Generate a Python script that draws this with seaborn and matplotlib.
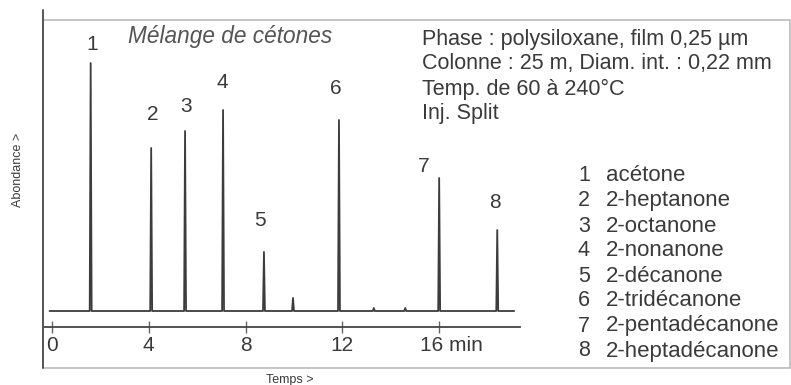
import numpy as np
import pandas as pd
import matplotlib.pyplot as plt
import matplotlib.transforms as mtransforms
from matplotlib.lines import Line2D
from matplotlib.patches import Rectangle
import seaborn as sns

# peaks (time in min, height in arbitrary units)
peak_ids = ["1", "2", "3", "4", "5", "6", "7", "8"]
peak_times = [1.6, 4.1, 5.5, 7.07, 8.76, 11.86, 16.0, 18.4]
peak_heights = [248, 163, 180, 201, 59, 191, 133, 81]
minor_times = [9.96, 13.3, 14.6]
minor_heights = [13, 3, 3]
compounds = ["acétone", "2-heptanone", "2-octanone", "2-nonanone",
             "2-décanone", "2-tridécanone", "2-pentadécanone", "2-heptadécanone"]
xticks = [0, 4, 8, 12, 16]
xticklabels = ["0", "4", "8", "12", "16 min"]

# label placement (offsets in px / data units)
lab_dx = [0.08, 0.08, 0.04, -0.04, -0.17, -0.12, -0.62, -0.08]
lab_dy = [18, 33, 24, 28, 32, 32, 11, 27]

sns.set_style("white")
plt.rcParams['font.family'] = ['Liberation Sans', 'DejaVu Sans']
ink = "#3a3a3a"

# build the trace: flat baseline with narrow spikes
all_t = peak_times + minor_times
all_h = peak_heights + minor_heights
order = np.argsort(all_t)
w = 0.04
xs, ys = [-0.1], [0]
for i in order:
    xs += [all_t[i] - w, all_t[i], all_t[i] + w]
    ys += [0, all_h[i], 0]
xs.append(19.1)
ys.append(0)
trace = pd.DataFrame({"t": xs, "a": ys})

fig = plt.figure(figsize=(7.91, 3.85), dpi=100)
W, H = 791, 385
ax = fig.add_axes([43 / W, (H - 327) / H, (520 - 43) / W, (327 - 20) / H])
sns.lineplot(data=trace, x="t", y="a", sort=False, estimator=None,
             color="#3c3c3c", linewidth=1.3, ax=ax)
ax.set_xlim(-0.37, 19.34)
ax.set_ylim(-16, 291)
ax.set_facecolor("none")
for s in ["top", "right", "left"]:
    ax.spines[s].set_visible(False)
ax.spines["bottom"].set_color("#444444")
ax.spines["bottom"].set_linewidth(1.3)
ax.set_yticks([])
ax.set_xticks(xticks)
ax.set_xticklabels(xticklabels)
ax.tick_params(axis="x", direction="inout", length=9, width=1, color="#666666",
               labelsize=15, labelcolor=ink, pad=2, bottom=True)
lab = ax.get_xticklabels()[-1]
lab.set_horizontalalignment("left")
lab.set_transform(lab.get_transform() + mtransforms.ScaledTranslation(-19 / 100, 0, fig.dpi_scale_trans))
ax.set_xlabel("")
ax.set_ylabel("")

for i, pid in enumerate(peak_ids):
    ax.text(peak_times[i] + lab_dx[i], peak_heights[i] + lab_dy[i], pid,
            ha="center", va="center", fontsize=15, color=ink)

# frame and left line
fig.add_artist(Rectangle((43 / W, (H - 368) / H), (790 - 43) / W, (368 - 20) / H,
                         transform=fig.transFigure, fill=False,
                         edgecolor="#bbbbbb", linewidth=1.2))
fig.add_artist(Line2D([43 / W, 43 / W], [(H - 368) / H, (H - 10) / H],
                      transform=fig.transFigure, color="#555555", linewidth=1.4))

fig.text(128 / W, 1 - 36 / H, "Mélange de cétones", fontsize=16.3, style="italic",
         color="#555555", ha="left", va="center")
info = ["Phase : polysiloxane, film 0,25 µm",
        "Colonne : 25 m, Diam. int. : 0,22 mm",
        "Temp. de 60 à 240°C",
        "Inj. Split"]
for i, line in enumerate(info):
    fig.text(422 / W, 1 - (39 + 25 * i) / H, line, fontsize=15.5, color=ink,
             ha="left", va="center")
for i, name in enumerate(compounds):
    y = 1 - (176 + 25 * i) / H
    fig.text(584 / W, y, peak_ids[i], fontsize=15.5, color=ink, ha="center", va="center")
    fig.text(606 / W, y, name, fontsize=16, color=ink, ha="left", va="center")

fig.text(18 / W, 1 - 170 / H, "Abondance >", rotation=90, fontsize=9,
         color=ink, ha="center", va="center")
fig.text(290 / W, 1 - 380 / H, "Temps >", fontsize=9, color=ink,
         ha="center", va="center")

fig.savefig("out.png", dpi=100)
